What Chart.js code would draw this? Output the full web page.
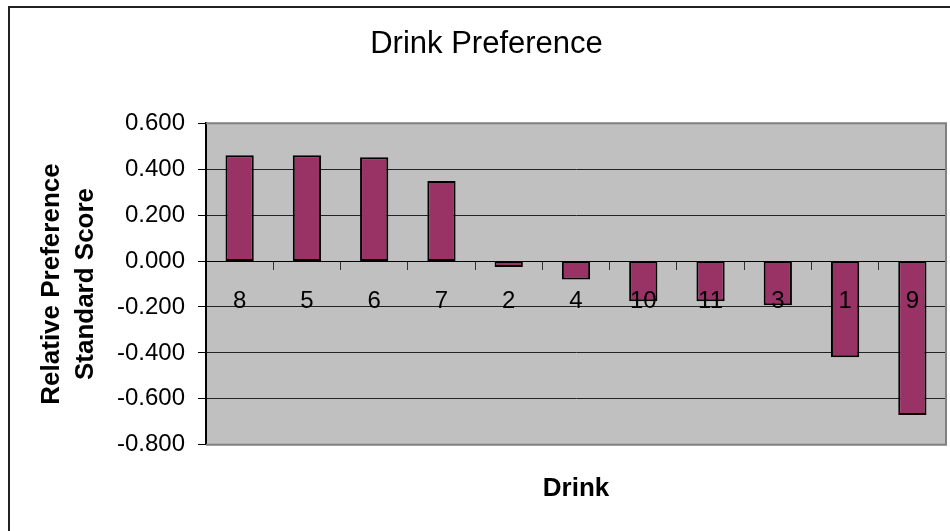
<!DOCTYPE html>
<html>
<head>
<meta charset="utf-8">
<script src="https://cdn.jsdelivr.net/npm/chart.js@4/dist/chart.umd.min.js"></script>
<style>
  body { margin: 0; background: #fff; }
</style>
</head>
<body>
<canvas id="myChart" width="950" height="531"></canvas>
<script>
var drinks = ['8', '5', '6', '7', '2', '4', '10', '11', '3', '1', '9'];
var scores = [0.461, 0.461, 0.452, 0.348, -0.026, -0.080, -0.175, -0.175, -0.193, -0.419, -0.670];
var yMin = -0.8;
var yMax = 0.6;
var yStep = 0.2;

var fontFamily = '"Liberation Sans", Arial, sans-serif';

// grey plot area + the chart frame on the left/top
var frame = {
  id: 'frame',
  beforeDraw: function (chart) {
    var ctx = chart.ctx;
    var a = chart.chartArea;
    ctx.save();
    ctx.fillStyle = '#fff';
    ctx.fillRect(0, 0, chart.width, chart.height);
    ctx.fillStyle = '#c0c0c0';
    ctx.fillRect(a.left, a.top, a.right - a.left, a.bottom - a.top);
    ctx.strokeStyle = '#222';
    ctx.lineWidth = 2;
    ctx.beginPath();
    ctx.moveTo(9, chart.height);
    ctx.lineTo(9, 7);
    ctx.lineTo(chart.width, 7);
    ctx.stroke();
    ctx.restore();
  },
  afterDatasetsDraw: function (chart) {
    var ctx = chart.ctx;
    var a = chart.chartArea;
    ctx.save();
    ctx.strokeStyle = '#808080';
    ctx.lineWidth = 2;
    ctx.beginPath();
    ctx.moveTo(a.left, a.top);
    ctx.lineTo(a.right, a.top);
    ctx.lineTo(a.right, a.bottom);
    ctx.lineTo(a.left, a.bottom);
    ctx.stroke();
    ctx.restore();
  }
};

var ctx = document.getElementById('myChart').getContext('2d');
window.myBar = new Chart(ctx, {
  type: 'bar',
  data: {
    labels: drinks,
    datasets: [{
      label: 'Relative Preference Standard Score',
      data: scores,
      backgroundColor: '#993366',
      borderColor: '#000',
      borderWidth: 2,
      borderSkipped: false,
      barPercentage: 0.42,
      categoryPercentage: 1
    }]
  },
  options: {
    responsive: false,
    animation: false,
    devicePixelRatio: 1,
    layout: {
      padding: { left: 27, right: 4, top: 6, bottom: 0 }
    },
    plugins: {
      legend: { display: false },
      tooltip: { enabled: false },
      title: {
        display: true,
        text: 'Drink Preference',
        color: '#000',
        font: { family: fontFamily, size: 31, weight: 'normal', lineHeight: 1.2 },
        padding: { top: 20, bottom: 60 }
      },
      subtitle: {
        display: true,
        text: 'Drink',
        position: 'bottom',
        fullSize: false,
        color: '#000',
        font: { family: fontFamily, size: 26, weight: 'bold', lineHeight: 1.2 },
        padding: { top: 28, bottom: 27 }
      }
    },
    scales: {
      x: {
        type: 'category',
        position: { y: 0 },
        offset: true,
        grid: {
          offset: true,
          drawOnChartArea: false,
          drawTicks: true,
          tickLength: 8,
          tickColor: '#333'
        },
        border: { display: true, color: '#000', width: 1 },
        ticks: {
          z: 1,
          color: '#000',
          autoSkip: false,
          maxRotation: 0,
          padding: 18,
          font: { family: fontFamily, size: 24 }
        }
      },
      y: {
        min: yMin,
        max: yMax,
        afterFit: function (scale) {
          scale.width = 206 - 27;
        },
        grid: {
          color: '#222',
          lineWidth: 1,
          drawTicks: true,
          tickLength: 8,
          tickColor: '#000'
        },
        border: { display: true, color: '#000', width: 2 },
        ticks: {
          stepSize: yStep,
          color: '#000',
          padding: 13,
          font: { family: fontFamily, size: 24 },
          callback: function (v) {
            if (Math.abs(v) < 1e-9) v = 0;
            return v.toFixed(3);
          }
        },
        title: {
          display: true,
          text: ['Relative Preference', 'Standard Score'],
          color: '#000',
          font: { family: fontFamily, size: 26, weight: 'bold', lineHeight: 1.31 },
          padding: { top: 8, bottom: 0 }
        }
      }
    }
  },
  plugins: [frame]
});
</script>
</body>
</html>
